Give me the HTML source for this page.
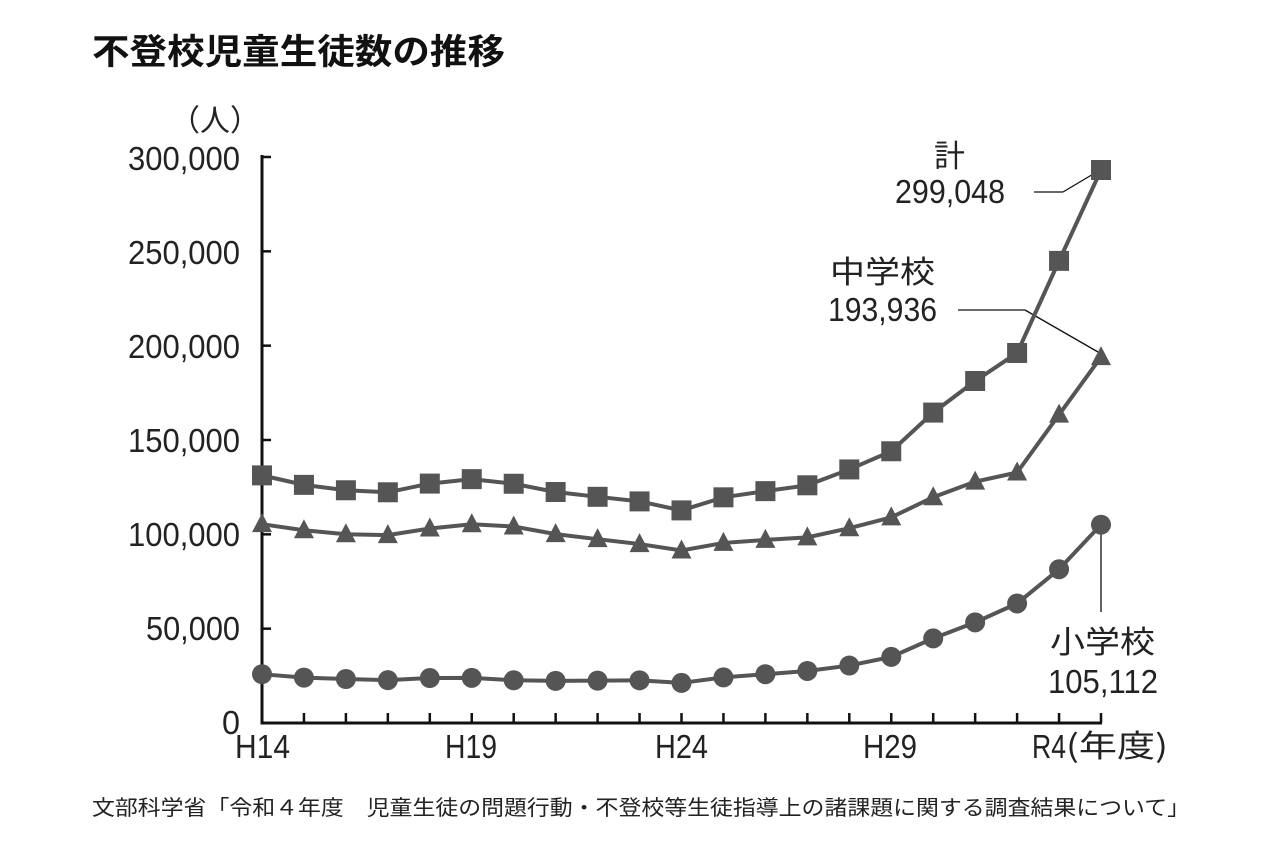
<!DOCTYPE html>
<html><head><meta charset="utf-8">
<style>
body{margin:0;background:#fff;}
svg{display:block;font-family:"Liberation Sans","Noto Sans CJK JP",sans-serif;}
</style></head>
<body>
<svg id="c" width="1280" height="853" viewBox="0 0 1280 853" xmlns="http://www.w3.org/2000/svg">
<text x="92" y="64" font-size="35" font-weight="bold" fill="#111" textLength="413" lengthAdjust="spacingAndGlyphs" font-family="'Noto Sans CJK JP',sans-serif">不登校児童生徒数の推移</text>
<text x="170" y="131" font-size="30" fill="#222" font-family="'Noto Sans CJK JP',sans-serif">（人）</text>
<g font-size="33" fill="#222" font-family="'Liberation Sans',sans-serif" lengthAdjust="spacingAndGlyphs">
<text x="128" y="170" textLength="112" lengthAdjust="spacingAndGlyphs">300,000</text>
<text x="128" y="264" textLength="112" lengthAdjust="spacingAndGlyphs">250,000</text>
<text x="128" y="358" textLength="112" lengthAdjust="spacingAndGlyphs">200,000</text>
<text x="128" y="452" textLength="112" lengthAdjust="spacingAndGlyphs">150,000</text>
<text x="128" y="546" textLength="112" lengthAdjust="spacingAndGlyphs">100,000</text>
<text x="146" y="640" textLength="94" lengthAdjust="spacingAndGlyphs">50,000</text>
<text x="222" y="734" textLength="18" lengthAdjust="spacingAndGlyphs">0</text>
<text x="235" y="758" textLength="55" lengthAdjust="spacingAndGlyphs">H14</text>
<text x="445" y="758" textLength="52" lengthAdjust="spacingAndGlyphs">H19</text>
<text x="655" y="758" textLength="53" lengthAdjust="spacingAndGlyphs">H24</text>
<text x="863" y="758" textLength="54" lengthAdjust="spacingAndGlyphs">H29</text>
<text x="1032" y="758" textLength="34" lengthAdjust="spacingAndGlyphs">R4</text>
<text x="895" y="203" textLength="110" lengthAdjust="spacingAndGlyphs">299,048</text>
<text x="828" y="321" textLength="109" lengthAdjust="spacingAndGlyphs">193,936</text>
<text x="1048" y="693" textLength="110" lengthAdjust="spacingAndGlyphs">105,112</text>
</g>
<g font-size="31" fill="#222" font-family="'Noto Sans CJK JP',sans-serif">
<text x="1066" y="757" textLength="102" lengthAdjust="spacingAndGlyphs">(年度)</text>
<text x="934" y="167">計</text>
<text x="830" y="283" textLength="105" lengthAdjust="spacingAndGlyphs">中学校</text>
<text x="1050" y="653" textLength="105" lengthAdjust="spacingAndGlyphs">小学校</text>
</g>
<text x="92" y="815" font-size="21" fill="#222" textLength="1098" lengthAdjust="spacingAndGlyphs" font-family="'Noto Sans CJK JP',sans-serif">文部科学省「令和４年度　児童生徒の問題行動・不登校等生徒指導上の諸課題に関する調査結果について」</text>
<g id="plot"></g>
</svg>
<script>
const T=[131252,126226,123358,122287,126894,129255,126805,122432,119891,117458,112689,119617,122897,125991,134398,144031,164528,181272,196127,244940,299048];
const J=[105383,102149,100040,99578,103069,105328,104153,100105,97428,94836,91446,95442,97033,98408,103235,108999,119687,127922,132777,163442,193936];
const E=[25869,24077,23318,22709,23825,23927,22652,22327,22463,22622,21243,24175,25864,27583,30448,35032,44841,53350,63350,81498,105112];
const X0=262,Y0=723,DX=41.95,S=566/300000,C="#555";
const X=i=>X0+i*DX, Y=v=>Y0-v*S;
let h='';
h+=`<line x1="${X0}" y1="155" x2="${X0}" y2="${Y0+1.5}" stroke="#111" stroke-width="3"/>`;
h+=`<line x1="${X0-1.5}" y1="${Y0}" x2="${X(20)+1}" y2="${Y0}" stroke="#111" stroke-width="3"/>`;
for(let k=1;k<=6;k++){const y=Y(k*50000);h+=`<line x1="${X0}" y1="${y}" x2="${X0+9}" y2="${y}" stroke="#111" stroke-width="2.5"/>`;}
for(let i=1;i<=20;i++){h+=`<line x1="${X(i)}" y1="${Y0}" x2="${X(i)}" y2="${Y0-10}" stroke="#111" stroke-width="2.5"/>`;}
h+=`<line x1="1034" y1="192" x2="1063" y2="192" stroke="#111" stroke-width="1.3"/><line x1="1063" y1="192" x2="1100" y2="170" stroke="#111" stroke-width="1.3"/>`;
h+=`<line x1="958" y1="310" x2="1025" y2="310" stroke="#111" stroke-width="1.3"/><line x1="1025" y1="310" x2="1098" y2="352" stroke="#111" stroke-width="1.3"/>`;
h+=`<line x1="${X(20)}" y1="${Y(E[20])}" x2="${X(20)}" y2="612" stroke="#111" stroke-width="1.3"/>`;
function pts(a,ov){return a.map((v,i)=>[X(i),(ov&&i==20)?ov:Y(v)]);}
const pT=pts(T,170),pJ=pts(J),pE=pts(E);
for(const p of [pT,pJ,pE]) h+=`<polyline points="${p.map(q=>q.join(',')).join(' ')}" fill="none" stroke="${C}" stroke-width="4"/>`;
pT.forEach(([x,y])=>h+=`<rect x="${x-10}" y="${y-10}" width="20" height="20" fill="${C}"/>`);
pJ.forEach(([x,y])=>h+=`<polygon points="${x},${y-11} ${x+10},${y+8} ${x-10},${y+8}" fill="${C}"/>`);
pE.forEach(([x,y])=>h+=`<circle cx="${x}" cy="${y}" r="10" fill="${C}"/>`);
document.getElementById('plot').innerHTML=h;
</script>
</body></html>
